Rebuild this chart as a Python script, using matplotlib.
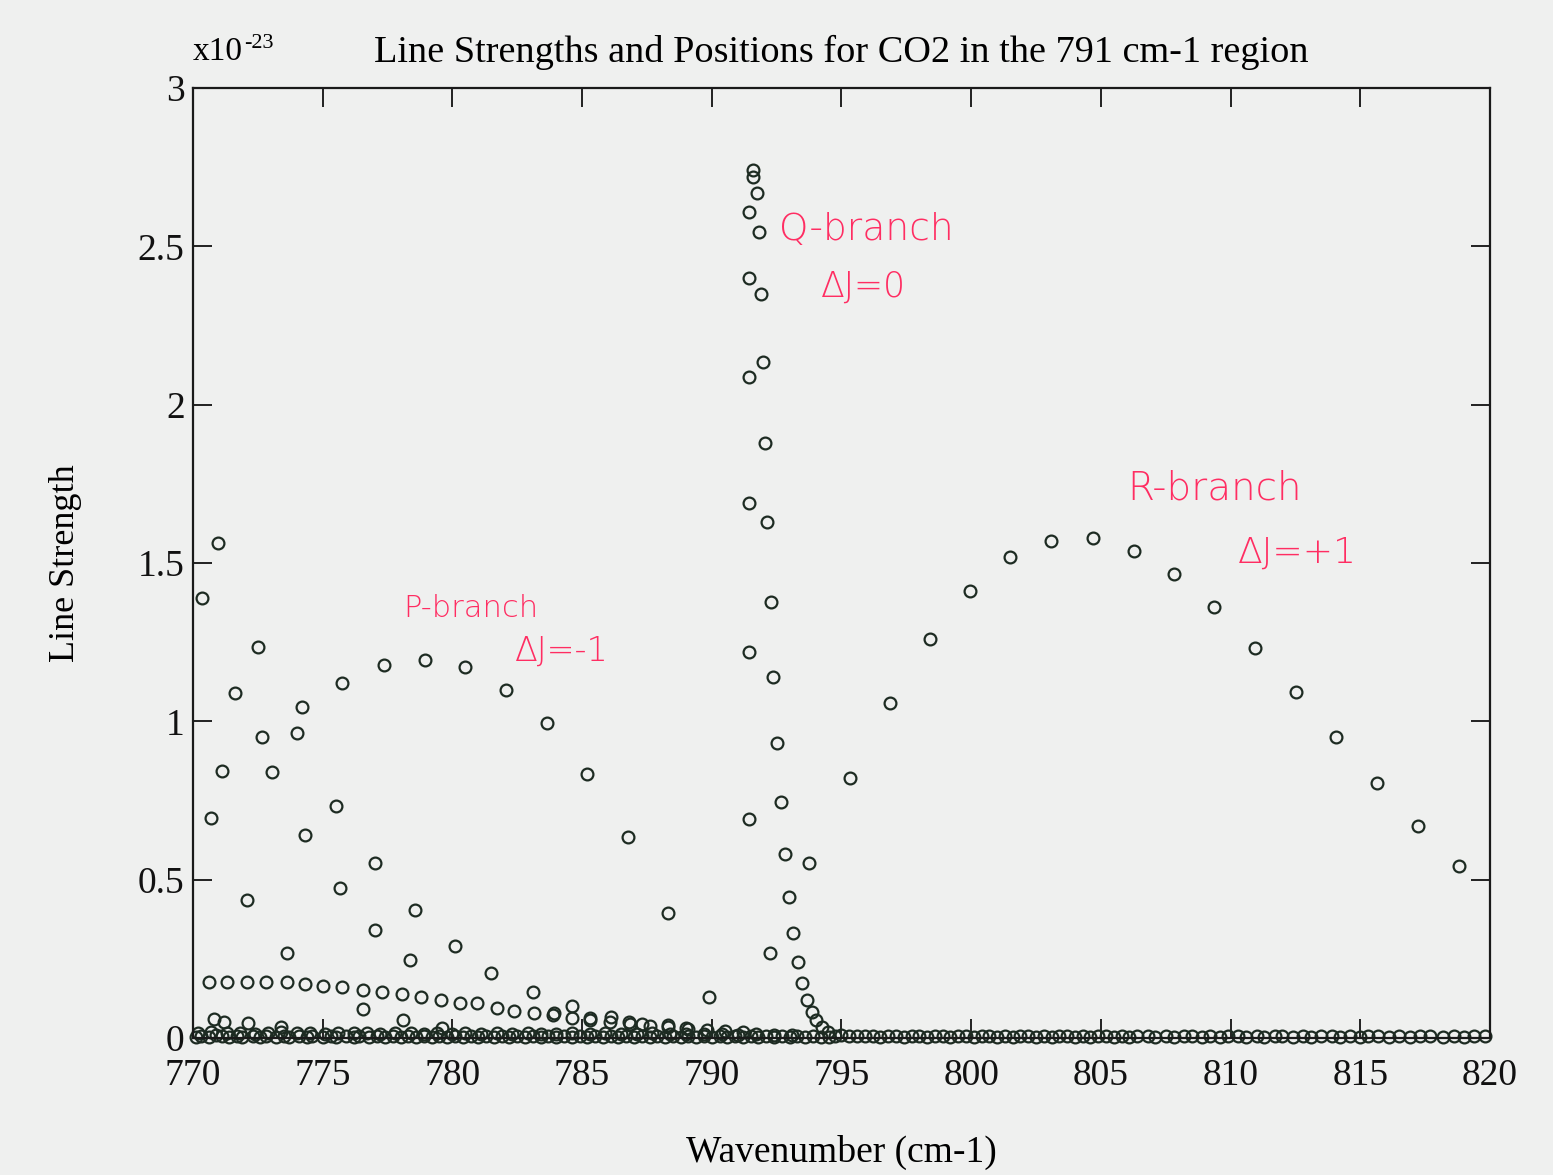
import numpy as np
import matplotlib.pyplot as plt

# --- data (wavenumber in cm-1, strength in units of 1e-23) ---
# P-branch envelope (strongest lines)
p_main_x = [770.35, 770.96, 771.62, 772.50, 774.20, 775.74, 777.36, 778.94,
            780.50, 782.05, 783.63, 785.18, 786.78, 788.32, 789.90]
p_main_y = [1.389, 1.563, 1.089, 1.235, 1.045, 1.121, 1.178, 1.194,
            1.172, 1.100, 0.995, 0.834, 0.635, 0.395, 0.130]

# P-branch weaker series
p_weak_x = [770.69, 771.12, 772.66, 773.05, 774.00, 774.30, 775.50, 775.67,
            777.02, 777.02, 772.08, 773.62, 778.56, 778.37, 780.10, 781.50,
            783.10, 784.60, 792.24]
p_weak_y = [0.695, 0.843, 0.950, 0.840, 0.963, 0.641, 0.733, 0.474,
            0.553, 0.341, 0.436, 0.268, 0.404, 0.246, 0.290, 0.205,
            0.145, 0.100, 0.268]

# hot-band row near 0.17
row_x = [770.61, 771.31, 772.08, 772.81, 773.62, 774.31, 775.01, 775.74,
         776.55, 777.28, 778.06, 778.79, 779.56, 780.29, 780.95, 781.72,
         782.37, 783.14, 783.88, 784.61, 785.30, 786.07, 786.84, 787.61,
         788.30, 789.07, 776.54]
row_y = [0.177, 0.177, 0.177, 0.177, 0.177, 0.170, 0.164, 0.161,
         0.152, 0.145, 0.139, 0.130, 0.120, 0.110, 0.110, 0.095,
         0.085, 0.079, 0.073, 0.063, 0.057, 0.051, 0.044, 0.038,
         0.035, 0.029, 0.092]

# small lines just above the baseline
low_x = [770.80, 771.20, 772.10, 773.40, 778.10, 779.60, 783.90, 785.30,
         786.10, 786.80, 787.30, 788.30, 789.00, 789.80, 790.50, 791.20]
low_y = [0.060, 0.050, 0.047, 0.035, 0.057, 0.030, 0.080, 0.063,
         0.066, 0.050, 0.044, 0.040, 0.030, 0.025, 0.022, 0.020]

# Q-branch
q_x = [791.59, 791.74, 791.43, 791.82, 791.43, 791.90, 791.97, 791.43,
       792.05, 791.43, 792.13, 792.28, 791.43, 792.36, 792.51, 792.67,
       791.43, 792.82, 793.75, 792.98, 793.13, 793.33, 793.48, 793.67,
       793.86, 794.02, 794.25, 794.48, 794.75, 791.59]
q_y = [2.740, 2.670, 2.610, 2.545, 2.400, 2.350, 2.135, 2.087,
       1.880, 1.690, 1.630, 1.377, 1.220, 1.140, 0.930, 0.745,
       0.690, 0.580, 0.553, 0.445, 0.330, 0.240, 0.174, 0.120,
       0.082, 0.057, 0.035, 0.019, 0.006, 2.720]

# R-branch envelope
r_x = [795.33, 796.87, 798.41, 799.95, 801.50, 803.08, 804.70, 806.28,
       807.82, 809.36, 810.94, 812.52, 814.06, 815.64, 817.22, 818.81]
r_y = [0.821, 1.058, 1.260, 1.411, 1.519, 1.569, 1.579, 1.538,
       1.465, 1.361, 1.231, 1.093, 0.950, 0.805, 0.669, 0.543]

# dense weak lines sitting on the baseline
base_x = [770.1, 770.3, 770.6, 770.9, 771.1, 771.4, 771.7, 771.9, 772.3, 772.6,
          772.8, 773.2, 773.5, 773.7, 774.1, 774.4, 774.6, 775.0, 775.3, 775.5,
          775.9, 776.2, 776.4, 776.8, 777.1, 777.4, 777.7, 778.0, 778.3, 778.6,
          778.9, 779.2, 779.5, 779.8, 780.1, 780.4, 780.7, 781.0, 781.3, 781.6,
          781.9, 782.2, 782.5, 782.8, 783.1, 783.4, 783.7, 784.0, 784.3, 784.6,
          784.9, 785.2, 785.5, 785.8, 786.1, 786.4, 786.7, 787.0, 787.3, 787.6,
          787.9, 788.2, 788.5, 788.8, 789.1, 789.4, 789.7, 790.0, 790.3, 790.6,
          790.9, 791.2, 791.5, 791.8, 792.1, 792.4, 792.7, 793.0, 793.3, 793.6,
          793.9, 794.2, 794.5,
          770.2, 770.7, 771.3, 771.8, 772.4, 772.9, 773.4, 774.0, 774.5, 775.1,
          775.6, 776.2, 776.7, 777.2, 777.8, 778.4, 778.9, 779.4, 780.0, 780.5,
          781.1, 781.7, 782.3, 782.9, 783.4, 784.0, 784.6, 785.3, 785.9, 786.5,
          787.1, 787.7, 788.4, 789.0, 789.7, 790.4, 791.0, 791.7, 792.4, 793.1]
base_y = [0.004, 0.006, 0.003, 0.008, 0.005, 0.004, 0.007, 0.003, 0.006, 0.004,
          0.005, 0.003, 0.007, 0.004, 0.006, 0.003, 0.005, 0.004, 0.006, 0.003,
          0.005, 0.004, 0.007, 0.003, 0.005, 0.004, 0.006, 0.003, 0.005, 0.004,
          0.006, 0.003, 0.005, 0.004, 0.006, 0.003, 0.005, 0.004, 0.006, 0.003,
          0.005, 0.004, 0.006, 0.003, 0.005, 0.004, 0.006, 0.003, 0.005, 0.004,
          0.006, 0.003, 0.005, 0.004, 0.006, 0.003, 0.005, 0.004, 0.006, 0.003,
          0.005, 0.004, 0.006, 0.003, 0.005, 0.004, 0.006, 0.003, 0.005, 0.004,
          0.006, 0.003, 0.005, 0.004, 0.006, 0.003, 0.005, 0.004, 0.006, 0.003,
          0.005, 0.004, 0.003,
          0.016, 0.018, 0.015, 0.017, 0.014, 0.016, 0.018, 0.015, 0.017, 0.014,
          0.016, 0.015, 0.017, 0.014, 0.016, 0.015, 0.013, 0.016, 0.014, 0.015,
          0.013, 0.016, 0.014, 0.015, 0.013, 0.014, 0.016, 0.013, 0.015, 0.014,
          0.013, 0.015, 0.012, 0.014, 0.013, 0.012, 0.011, 0.012, 0.010, 0.011]

base_r_x = [795.0, 795.3, 795.6, 795.9, 796.2, 796.5, 796.8, 797.1, 797.4, 797.7,
            798.0, 798.3, 798.6, 798.9, 799.2, 799.5, 799.8, 800.1, 800.4, 800.7,
            801.0, 801.3, 801.6, 801.9, 802.2, 802.5, 802.8, 803.1, 803.4, 803.7,
            804.0, 804.3, 804.6, 804.9, 805.2, 805.5, 805.8, 806.1, 806.4, 806.8,
            807.1, 807.5, 807.8, 808.2, 808.5, 808.9, 809.2, 809.6, 809.9, 810.3,
            810.6, 811.0, 811.3, 811.7, 812.0, 812.4, 812.8, 813.1, 813.5, 813.9,
            814.2, 814.6, 815.0, 815.3, 815.7, 816.1, 816.5, 816.9, 817.3, 817.7,
            818.2, 818.6, 819.0, 819.4, 819.8]
base_r_y = [0.008, 0.006, 0.007, 0.005, 0.006, 0.004, 0.006, 0.005, 0.004, 0.006,
            0.005, 0.004, 0.006, 0.005, 0.004, 0.006, 0.005, 0.004, 0.005, 0.006,
            0.004, 0.005, 0.004, 0.006, 0.005, 0.004, 0.005, 0.004, 0.006, 0.005,
            0.004, 0.005, 0.004, 0.006, 0.005, 0.004, 0.005, 0.004, 0.006, 0.005,
            0.004, 0.005, 0.004, 0.006, 0.005, 0.004, 0.005, 0.004, 0.006, 0.005,
            0.004, 0.005, 0.004, 0.006, 0.005, 0.004, 0.005, 0.004, 0.006, 0.005,
            0.004, 0.005, 0.004, 0.006, 0.005, 0.004, 0.005, 0.004, 0.006, 0.005,
            0.004, 0.005, 0.004, 0.006, 0.005]

x_ticks = [770, 775, 780, 785, 790, 795, 800, 805, 810, 815, 820]
y_ticks = [0, 0.5, 1, 1.5, 2, 2.5, 3]
y_tick_labels = ['0', '0.5', '1', '1.5', '2', '2.5', '3']

# --- plotting ---
plt.rcParams['font.family'] = ['Liberation Serif', 'DejaVu Serif']
bg = '#eff0ef'
fig = plt.figure(figsize=(15.53, 11.75), dpi=100, facecolor=bg)
ax = fig.add_axes([0.1243, 0.1166, 0.8351, 0.8085], facecolor=bg)

marker_style = dict(linestyle='none', marker='o', markersize=8.5,
                    markerfacecolor='none', markeredgecolor='#1d2b22',
                    markeredgewidth=1.6)
for xs, ys in [(base_x, base_y), (base_r_x, base_r_y), (low_x, low_y),
               (row_x, row_y), (p_weak_x, p_weak_y), (p_main_x, p_main_y),
               (q_x, q_y), (r_x, r_y)]:
    ax.plot(xs, ys, clip_on=False, **marker_style)

ax.set_xlim(770, 820)
ax.set_ylim(0, 3)
ax.set_xticks(x_ticks)
ax.set_yticks(y_ticks)
ax.set_yticklabels(y_tick_labels)
ax.tick_params(direction='in', length=14, width=1.3, top=True, right=True,
               labelsize=27, colors='#111111')
ax.tick_params(axis='x', pad=15)
ax.tick_params(axis='y', pad=6)
for s in ax.spines.values():
    s.set_linewidth(1.6)
    s.set_color('#1a1a1a')

ax.set_xlabel('Wavenumber (cm-1)', fontsize=27, labelpad=30)
ax.set_ylabel('Line Strength', fontsize=26, labelpad=40)
ax.set_title('Line Strengths and Positions for CO2 in the 791 cm-1 region',
             fontsize=27.5, pad=19)
fig.text(0.124, 0.949, 'x10', fontsize=24, ha='left', va='baseline')
fig.text(0.157, 0.959, '-23', fontsize=16, ha='left', va='baseline')

# handwritten branch labels
red = '#ff2d62'
hand = dict(color=red, family='DejaVu Sans', fontweight='light')
ax.text(792.6, 2.52, 'Q-branch', fontsize=27, **hand)
ax.text(794.2, 2.34, 'ΔJ=0', fontsize=25, **hand)
ax.text(806.0, 1.70, 'R-branch', fontsize=28, **hand)
ax.text(810.3, 1.50, 'ΔJ=+1', fontsize=26, **hand)
ax.text(778.1, 1.33, 'P-branch', fontsize=22, **hand)
ax.text(782.4, 1.19, 'ΔJ=-1', fontsize=24, **hand)

fig.savefig('out.png', dpi=100, facecolor=bg)
